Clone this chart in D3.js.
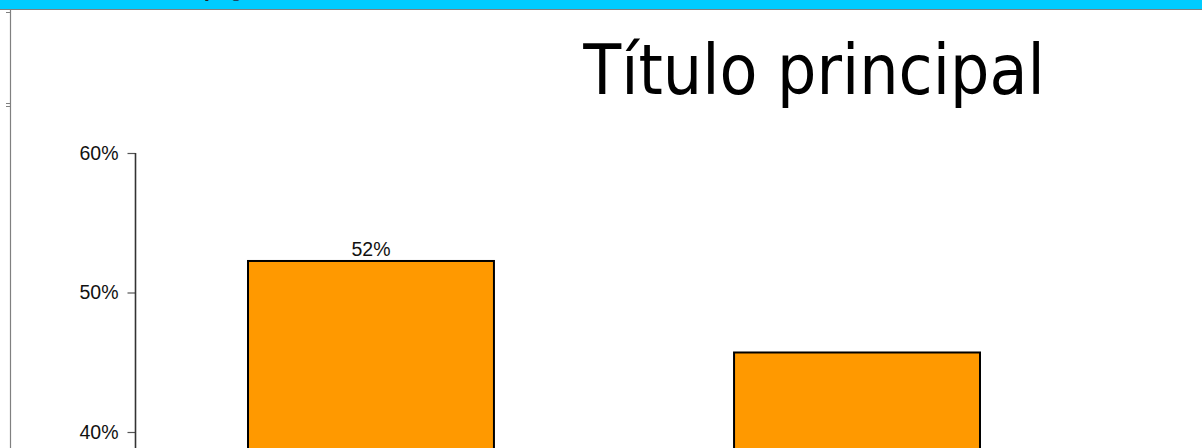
<!DOCTYPE html>
<html>
<head>
<meta charset="utf-8">
<script src="https://cdn.jsdelivr.net/npm/d3@7"></script>
<style>
  html, body { margin: 0; padding: 0; background: #fff; overflow: hidden; }
  svg { display: block; }
</style>
</head>
<body>
<div id="chart"></div>
<script>
// data
const categories = ["A", "B"];
const values = [0.5226, 0.457];
const barLabels = ["52%", ""];
const yTicks = [0.4, 0.5, 0.6];
const titleText = "Título principal";

(function () {
  "use strict";

  const W = 1202, H = 448;
  const svg = d3.select("#chart").append("svg")
    .attr("width", W).attr("height", H);

  // ---------- page chrome (top band + left frame) ----------
  svg.append("rect").attr("x", 0).attr("y", 0).attr("width", W).attr("height", 9)
    .attr("fill", "#00ccff");
  svg.append("line").attr("x1", 0).attr("x2", W).attr("y1", 9.5).attr("y2", 9.5)
    .attr("stroke", "#808080").attr("stroke-width", 1);
  svg.append("line").attr("x1", 10.5).attr("x2", 10.5).attr("y1", 10).attr("y2", H)
    .attr("stroke", "#808080").attr("stroke-width", 1.2);
  [12.5, 103.5, 106.5].forEach((yy) => {
    svg.append("line").attr("x1", 6).attr("x2", 10).attr("y1", yy).attr("y2", yy)
      .attr("stroke", "#808080").attr("stroke-width", 1);
  });
  // cut-off heading text in the band (only descenders show)
  svg.append("text").attr("x", 204).attr("y", -3)
    .attr("font-family", "DejaVu Sans").attr("font-size", 18).attr("fill", "#222")
    .text("y");
  svg.append("text").attr("x", 231).attr("y", -3)
    .attr("font-family", "DejaVu Sans").attr("font-size", 18).attr("fill", "#1a4a66")
    .text("g");

  // ---------- title ----------
  svg.append("text")
    .attr("x", 814).attr("y", 94)
    .attr("text-anchor", "middle")
    .attr("font-family", "DejaVu Sans Condensed, DejaVu Sans")
    .attr("font-stretch", "condensed")
    .attr("font-size", 69)
    .attr("fill", "#000")
    .text(titleText);

  // ---------- scales ----------
  const y = d3.scaleLinear().domain([0.4, 0.6]).range([432, 153]);
  const x = d3.scaleBand()
    .domain(categories)
    .range([135, 1093])
    .paddingInner(0.494)
    .paddingOuter(0.2325);

  // ---------- axis ----------
  const yAxis = svg.append("g")
    .attr("transform", "translate(135.5,0)")
    .call(d3.axisLeft(y).tickValues(yTicks).tickFormat(d3.format(".0%")).tickSize(8).tickPadding(9));
  yAxis.select(".domain").remove();
  yAxis.selectAll(".tick line").attr("stroke", "#555").attr("stroke-width", 1.2);
  yAxis.selectAll("text")
    .attr("font-family", "Liberation Sans, Arial, sans-serif")
    .attr("font-size", 19.5)
    .attr("fill", "#111");
  svg.append("line")
    .attr("x1", 135.5).attr("x2", 135.5)
    .attr("y1", y(0.6)).attr("y2", H)
    .attr("stroke", "#333").attr("stroke-width", 1.6);

  // ---------- bars ----------
  const data = categories.map((c, i) => ({ cat: c, v: values[i], label: barLabels[i] }));

  svg.selectAll(".bar")
    .data(data)
    .join("rect")
    .attr("class", "bar")
    .attr("x", (d) => x(d.cat))
    .attr("y", (d) => y(d.v))
    .attr("width", x.bandwidth())
    .attr("height", (d) => H + 10 - y(d.v))
    .attr("fill", "#ff9900")
    .attr("stroke", "#000")
    .attr("stroke-width", 2);

  svg.selectAll(".bar-label")
    .data(data)
    .join("text")
    .attr("class", "bar-label")
    .attr("x", (d) => x(d.cat) + x.bandwidth() / 2)
    .attr("y", (d) => y(d.v) - 5)
    .attr("text-anchor", "middle")
    .attr("font-family", "Liberation Sans, Arial, sans-serif")
    .attr("font-size", 19.5)
    .attr("fill", "#111")
    .text((d) => d.label);
})();
</script>
</body>
</html>
